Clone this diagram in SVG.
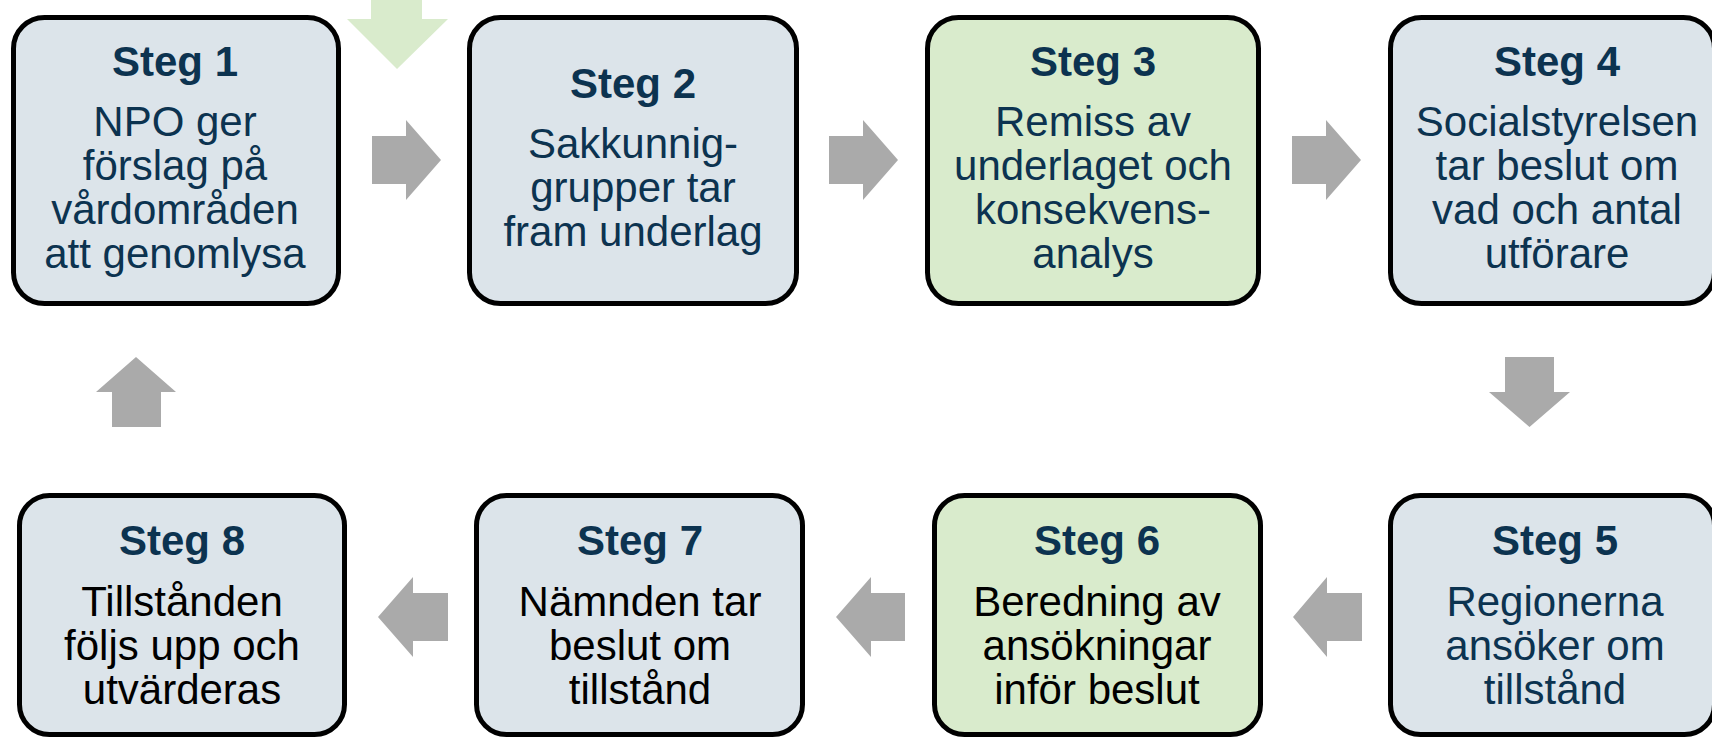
<svg xmlns="http://www.w3.org/2000/svg" width="1712" height="737" viewBox="0 0 1712 737">
<style>
.box{stroke:#000;stroke-width:5}
.blue{fill:#DCE4EA}
.green{fill:#D9EBCC}
.t{font-family:"Liberation Sans",Arial,sans-serif;text-anchor:middle}
.h{font-size:42px;font-weight:bold;fill:#0C3350}
.b{font-size:42px;fill:#0C3350}
.k{fill:#000}
.arr{fill:#AAAAAA}
.garr{fill:#D9EBCC}
</style>
<rect width="1712" height="737" fill="#fff"/>
<g id="connectors">
<polygon class="garr" points="371,-2 422,-2 422,19 448,19 397,69 347,19 371,19"/>
<polygon class="arr" points="372,136 406,136 406,120 441,160 406,200 406,184 372,184"/>
<polygon class="arr" points="829,136 863,136 863,120 898,160 863,200 863,184 829,184"/>
<polygon class="arr" points="1292,136 1326,136 1326,120 1361,160 1326,200 1326,184 1292,184"/>
<polygon class="arr" points="1505,357 1554,357 1554,392 1570,392 1529.5,427 1489,392 1505,392"/>
<polygon class="arr" points="1362,593 1327,593 1327,577 1293,617 1327,657 1327,641 1362,641"/>
<polygon class="arr" points="905,593 871,593 871,577 836,617 871,657 871,641 905,641"/>
<polygon class="arr" points="448,593 413,593 413,577 378,617 413,657 413,641 448,641"/>
<polygon class="arr" points="112,427 161,427 161,392 176,392 136,357 96,392 112,392"/>
</g>
<g id="steg1">
<rect class="box blue" x="13.5" y="17.5" width="325" height="286" rx="31"/>
<text class="t h" x="175" y="76">Steg 1</text>
<text class="t b" x="175" y="136">NPO ger</text>
<text class="t b" x="175" y="180">förslag på</text>
<text class="t b" x="175" y="224">vårdområden</text>
<text class="t b" x="175" y="268">att genomlysa</text>
</g>
<g id="steg2">
<rect class="box blue" x="469.5" y="17.5" width="327" height="286" rx="31"/>
<text class="t h" x="633" y="98">Steg 2</text>
<text class="t b" x="633" y="158">Sakkunnig-</text>
<text class="t b" x="633" y="202">grupper tar</text>
<text class="t b" x="633" y="246">fram underlag</text>
</g>
<g id="steg3">
<rect class="box green" x="927.5" y="17.5" width="331" height="286" rx="31"/>
<text class="t h" x="1093" y="76">Steg 3</text>
<text class="t b" x="1093" y="136">Remiss av</text>
<text class="t b" x="1093" y="180">underlaget och</text>
<text class="t b" x="1093" y="224">konsekvens-</text>
<text class="t b" x="1093" y="268">analys</text>
</g>
<g id="steg4">
<rect class="box blue" x="1390.5" y="17.5" width="324" height="286" rx="31"/>
<text class="t h" x="1557" y="76">Steg 4</text>
<text class="t b" x="1557" y="136">Socialstyrelsen</text>
<text class="t b" x="1557" y="180">tar beslut om</text>
<text class="t b" x="1557" y="224">vad och antal</text>
<text class="t b" x="1557" y="268">utförare</text>
</g>
<g id="steg5">
<rect class="box blue" x="1390.5" y="495.5" width="324" height="239" rx="30"/>
<text class="t h" x="1555" y="555">Steg 5</text>
<text class="t b" x="1555" y="616">Regionerna</text>
<text class="t b" x="1555" y="660">ansöker om</text>
<text class="t b" x="1555" y="704">tillstånd</text>
</g>
<g id="steg6">
<rect class="box green" x="934.5" y="495.5" width="326" height="239" rx="30"/>
<text class="t h" x="1097" y="555">Steg 6</text>
<text class="t b k" x="1097" y="616">Beredning av</text>
<text class="t b k" x="1097" y="660">ansökningar</text>
<text class="t b k" x="1097" y="704">inför beslut</text>
</g>
<g id="steg7">
<rect class="box blue" x="476.5" y="495.5" width="326" height="239" rx="30"/>
<text class="t h" x="640" y="555">Steg 7</text>
<text class="t b k" x="640" y="616">Nämnden tar</text>
<text class="t b k" x="640" y="660">beslut om</text>
<text class="t b k" x="640" y="704">tillstånd</text>
</g>
<g id="steg8">
<rect class="box blue" x="19.5" y="495.5" width="325" height="239" rx="30"/>
<text class="t h" x="182" y="555">Steg 8</text>
<text class="t b k" x="182" y="616">Tillstånden</text>
<text class="t b k" x="182" y="660">följs upp och</text>
<text class="t b k" x="182" y="704">utvärderas</text>
</g>
</svg>
